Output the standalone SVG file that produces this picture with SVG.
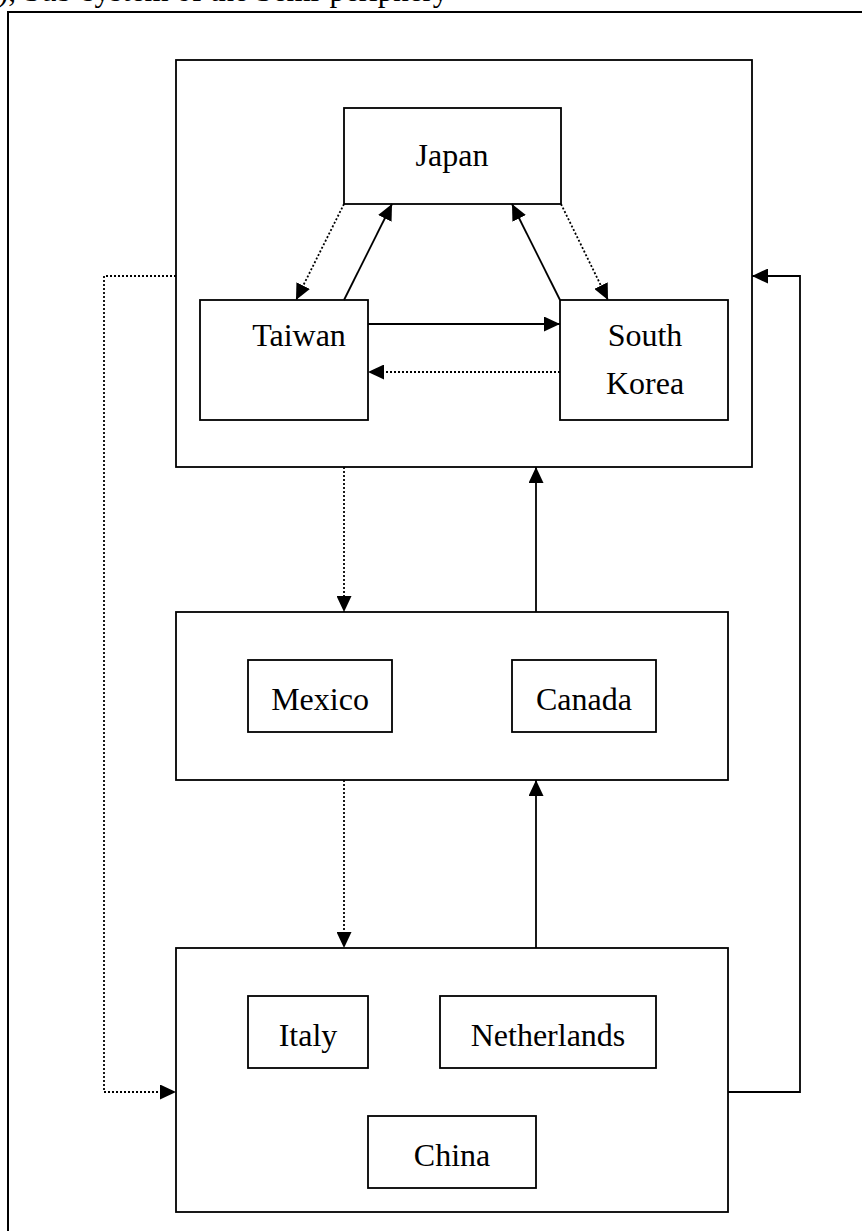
<svg xmlns="http://www.w3.org/2000/svg" width="862" height="1231" viewBox="0 0 862 1231">
<style>
.box{fill:#fff;stroke:#000;stroke-width:1.8}
.frame{fill:none;stroke:#000;stroke-width:2}
.t{font-family:"Liberation Serif","Times New Roman",serif;font-size:32px;fill:#000;text-anchor:middle}
.cap{font-family:"Liberation Serif","Times New Roman",serif;font-size:31px;fill:#000}
.s{fill:none;stroke:#000;stroke-width:1.8}
.d{fill:none;stroke:#000;stroke-width:1.8;stroke-dasharray:2 2}
</style>
<defs>
<marker id="ah" markerUnits="userSpaceOnUse" markerWidth="17" markerHeight="15" refX="16" refY="7.5" orient="auto">
<path d="M0,0 L16,7.5 L0,15 Z" fill="#000"/>
</marker>
</defs>
<text class="cap" x="-2" y="1">), Sub-system of the Semi-periphery</text>
<rect class="frame" x="8" y="12" width="900" height="1300"/>
<g id="core"><rect class="box" x="176" y="60" width="576" height="407"/></g>
<g id="semi"><rect class="box" x="176" y="612" width="552" height="168"/></g>
<g id="periphery"><rect class="box" x="176" y="948" width="552" height="264"/></g>
<g id="japan"><rect class="box" x="344" y="108" width="217" height="96"/><text class="t" x="452" y="166">Japan</text></g>
<g id="taiwan"><rect class="box" x="200" y="300" width="168" height="120"/><text class="t" x="299" y="346">Taiwan</text></g>
<g id="southkorea"><rect class="box" x="560" y="300" width="168" height="120"/><text class="t" x="645" y="346">South</text><text class="t" x="645" y="394">Korea</text></g>
<g id="mexico"><rect class="box" x="248" y="660" width="144" height="72"/><text class="t" x="320" y="710">Mexico</text></g>
<g id="canada"><rect class="box" x="512" y="660" width="144" height="72"/><text class="t" x="584" y="710">Canada</text></g>
<g id="italy"><rect class="box" x="248" y="996" width="120" height="72"/><text class="t" x="308" y="1046">Italy</text></g>
<g id="netherlands"><rect class="box" x="440" y="996" width="216" height="72"/><text class="t" x="548" y="1046">Netherlands</text></g>
<g id="china"><rect class="box" x="368" y="1116" width="168" height="72"/><text class="t" x="452" y="1166">China</text></g>
<g id="connectors">
<path class="d" d="M344,204 L296,300" marker-end="url(#ah)"/>
<path class="s" d="M344,300 L392,204" marker-end="url(#ah)"/>
<path class="s" d="M560,300 L512,204" marker-end="url(#ah)"/>
<path class="d" d="M561,204 L608,300" marker-end="url(#ah)"/>
<path class="s" d="M368,324 L560,324" marker-end="url(#ah)"/>
<path class="d" d="M560,372 L368,372" marker-end="url(#ah)"/>
<path class="d" d="M344,467 L344,612" marker-end="url(#ah)"/>
<path class="s" d="M536,612 L536,467" marker-end="url(#ah)"/>
<path class="d" d="M344,780 L344,948" marker-end="url(#ah)"/>
<path class="s" d="M536,948 L536,780" marker-end="url(#ah)"/>
<path class="d" d="M176,276 L104,276 L104,1092 L176,1092" marker-end="url(#ah)"/>
<path class="s" d="M728,1092 L800,1092 L800,276 L752,276" marker-end="url(#ah)"/>
</g>
</svg>
